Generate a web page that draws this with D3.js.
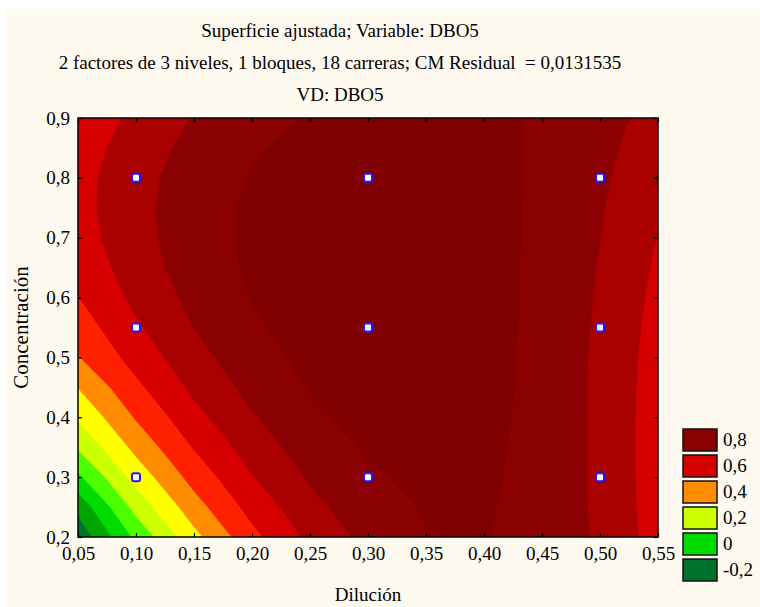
<!DOCTYPE html>
<html>
<head>
<meta charset="utf-8">
<script src="https://cdn.jsdelivr.net/npm/d3@7"></script>
<style>
body { margin: 0; background: #ffffff; }
svg text { font-family: 'Liberation Serif', 'Times New Roman', serif; fill: #000; }
</style>
</head>
<body>
<svg width="760" height="607"></svg>
<script>
// Fitted surface values (DBO5) on a 0.05 x 0.05 grid
var dilucion = [0.05, 0.10, 0.15, 0.20, 0.25, 0.30, 0.35, 0.40, 0.45, 0.50, 0.55];
var concentracion = [0.20, 0.25, 0.30, 0.35, 0.40, 0.45, 0.50, 0.55, 0.60, 0.65, 0.70, 0.75, 0.80, 0.85, 0.90];
// one row per concentracion value, bottom row first
var dbo5 = [
    [-0.271, 0.023, 0.270, 0.471, 0.624, 0.730, 0.797, 0.806, 0.767, 0.685, 0.556],
    [-0.170, 0.136, 0.358, 0.536, 0.671, 0.761, 0.807, 0.809, 0.767, 0.682, 0.552],
    [-0.020, 0.238, 0.437, 0.595, 0.712, 0.788, 0.822, 0.816, 0.768, 0.679, 0.549],
    [ 0.112, 0.329, 0.507, 0.647, 0.748, 0.811, 0.836, 0.822, 0.769, 0.678, 0.549],
    [ 0.214, 0.409, 0.569, 0.692, 0.780, 0.831, 0.847, 0.827, 0.770, 0.678, 0.550],
    [ 0.303, 0.479, 0.622, 0.730, 0.806, 0.848, 0.856, 0.831, 0.772, 0.679, 0.553],
    [ 0.395, 0.538, 0.666, 0.762, 0.827, 0.860, 0.863, 0.834, 0.773, 0.681, 0.558],
    [ 0.447, 0.586, 0.701, 0.786, 0.843, 0.869, 0.867, 0.836, 0.775, 0.685, 0.565],
    [ 0.498, 0.624, 0.728, 0.804, 0.853, 0.875, 0.869, 0.837, 0.776, 0.689, 0.574],
    [ 0.530, 0.651, 0.746, 0.815, 0.859, 0.877, 0.870, 0.837, 0.778, 0.694, 0.585],
    [ 0.555, 0.667, 0.755, 0.819, 0.859, 0.875, 0.868, 0.836, 0.780, 0.701, 0.597],
    [ 0.566, 0.672, 0.755, 0.816, 0.854, 0.870, 0.863, 0.834, 0.782, 0.708, 0.611],
    [ 0.565, 0.667, 0.747, 0.806, 0.845, 0.861, 0.857, 0.831, 0.785, 0.717, 0.627],
    [ 0.551, 0.651, 0.730, 0.790, 0.830, 0.849, 0.849, 0.828, 0.787, 0.726, 0.645],
    [ 0.523, 0.624, 0.705, 0.767, 0.809, 0.833, 0.838, 0.823, 0.790, 0.737, 0.665]
];

// Design points (3 x 3 levels)
var disenoDil = [0.1, 0.3, 0.5];
var disenoConc = [0.3, 0.55, 0.8];

// Contour levels and band colours (lowest band first)
var niveles = [-0.2, -0.1, 0, 0.1, 0.2, 0.3, 0.4, 0.5, 0.6, 0.7, 0.8];
var colores = ['#00732a', '#00a600', '#00dc00', '#4cff00', '#ccff00', '#ffff00',
               '#ff8c00', '#ff2000', '#d60000', '#aa0000', '#8b0000', '#800000'];
var leyendaNiveles = [0.8, 0.6, 0.4, 0.2, 0, -0.2];

var dilTicks = [0.05, 0.10, 0.15, 0.20, 0.25, 0.30, 0.35, 0.40, 0.45, 0.50, 0.55];
var concTicks = [0.2, 0.3, 0.4, 0.5, 0.6, 0.7, 0.8, 0.9];

var titulos = [
    'Superficie ajustada; Variable: DBO5',
    '2 factores de 3 niveles, 1 bloques, 18 carreras; CM Residual  = 0,0131535',
    'VD: DBO5'
];

var svg = d3.select('svg');
var plot = {l: 78, r: 658, t: 118, b: 537};
var fontSize = 19;

// cream page background
svg.append('rect')
    .attr('x', 6).attr('y', 9)
    .attr('width', 754).attr('height', 598)
    .attr('fill', '#fffaf0');

var xScale = d3.scaleLinear().domain([0.05, 0.55]).range([plot.l, plot.r]);
var yScale = d3.scaleLinear().domain([0.2, 0.9]).range([plot.b, plot.t]);
var colorScale = d3.scaleThreshold().domain(niveles).range(colores);

// decimal comma, plain hyphen for negatives
function coma(fmt) {
    var f = d3.format(fmt);
    return function(d) { return f(d).replace('.', ',').replace('\u2212', '-'); };
}

// clip for the filled contours
svg.append('defs').append('clipPath')
    .attr('id', 'plotClip')
    .append('rect')
    .attr('x', plot.l).attr('y', plot.t)
    .attr('width', plot.r - plot.l).attr('height', plot.b - plot.t);

var chartG = svg.append('g').attr('clip-path', 'url(#plotClip)');

// lowest band as base
chartG.append('rect')
    .attr('x', plot.l).attr('y', plot.t)
    .attr('width', plot.r - plot.l).attr('height', plot.b - plot.t)
    .attr('fill', colores[0]);

var nx = dilucion.length, ny = concentracion.length;
var stepX = dilucion[1] - dilucion[0];
var stepY = concentracion[1] - concentracion[0];
var valores = [];
dbo5.forEach(function(row) { row.forEach(function(v) { valores.push(v); }); });

var contornos = d3.contours()
    .size([nx, ny])
    .thresholds(niveles)(valores);

// grid coordinates -> data -> pixels
var proyeccion = d3.geoTransform({
    point: function(gx, gy) {
        var dx = dilucion[0] + (gx - 0.5) * stepX;
        var dy = concentracion[0] + (gy - 0.5) * stepY;
        this.stream.point(xScale(dx), yScale(dy));
    }
});
var path = d3.geoPath(proyeccion);

chartG.selectAll('.banda')
    .data(contornos)
    .enter()
    .append('path')
    .attr('class', 'banda')
    .attr('d', path)
    .attr('fill', function(d) { return colorScale(d.value); })
    .attr('stroke', function(d) { return colorScale(d.value); })
    .attr('stroke-width', 0.4);

// design points
var puntos = [];
disenoConc.forEach(function(c) {
    disenoDil.forEach(function(d) { puntos.push({dil: d, conc: c}); });
});
svg.selectAll('.punto')
    .data(puntos)
    .enter()
    .append('rect')
    .attr('class', 'punto')
    .attr('x', function(d) { return xScale(d.dil) - 4; })
    .attr('y', function(d) { return yScale(d.conc) - 4; })
    .attr('width', 8).attr('height', 8)
    .attr('rx', 2)
    .attr('fill', '#ffffff')
    .attr('stroke', '#1a1aff')
    .attr('stroke-width', 2);

// axes, ticks pointing inside on all four sides
function estiloEje(g) {
    g.select('.domain').remove();
    g.selectAll('line').attr('stroke', '#000').attr('stroke-width', 1.2);
    g.selectAll('text').attr('font-size', fontSize)
        .attr('font-family', "'Liberation Serif', 'Times New Roman', serif");
}

svg.append('g')
    .attr('transform', 'translate(0,' + plot.b + ')')
    .call(d3.axisBottom(xScale).tickValues(dilTicks).tickSizeInner(-4).tickSizeOuter(0)
        .tickPadding(10).tickFormat(coma('.2f')))
    .call(estiloEje);
svg.append('g')
    .attr('transform', 'translate(0,' + plot.t + ')')
    .call(d3.axisTop(xScale).tickValues(dilTicks).tickSizeInner(-4).tickSizeOuter(0)
        .tickFormat(''))
    .call(estiloEje);
svg.append('g')
    .attr('transform', 'translate(' + plot.l + ',0)')
    .call(d3.axisLeft(yScale).tickValues(concTicks).tickSizeInner(-4).tickSizeOuter(0)
        .tickPadding(8).tickFormat(coma('.1f')))
    .call(estiloEje);
svg.append('g')
    .attr('transform', 'translate(' + plot.r + ',0)')
    .call(d3.axisRight(yScale).tickValues(concTicks).tickSizeInner(-4).tickSizeOuter(0)
        .tickFormat(''))
    .call(estiloEje);

// plot frame
svg.append('rect')
    .attr('x', plot.l).attr('y', plot.t)
    .attr('width', plot.r - plot.l).attr('height', plot.b - plot.t)
    .attr('fill', 'none')
    .attr('stroke', '#000')
    .attr('stroke-width', 1.5);

// titles
svg.selectAll('.titulo')
    .data(titulos)
    .enter()
    .append('text')
    .attr('class', 'titulo')
    .attr('x', 340)
    .attr('y', function(d, i) { return 37 + i * 32; })
    .attr('text-anchor', 'middle')
    .attr('font-size', fontSize)
    .style('white-space', 'pre')
    .text(function(d) { return d; });

svg.append('text')
    .attr('x', (plot.l + plot.r) / 2)
    .attr('y', 601)
    .attr('text-anchor', 'middle')
    .attr('font-size', fontSize)
    .text('Dilución');

svg.append('text')
    .attr('transform', 'translate(28,' + ((plot.t + plot.b) / 2) + ') rotate(-90)')
    .attr('text-anchor', 'middle')
    .attr('font-size', 21)
    .text('Concentración');

// legend
var leyenda = svg.append('g').attr('transform', 'translate(683,429)');
var item = leyenda.selectAll('.item')
    .data(leyendaNiveles)
    .enter()
    .append('g')
    .attr('class', 'item')
    .attr('transform', function(d, i) { return 'translate(0,' + (i * 26) + ')'; });
item.append('rect')
    .attr('width', 34).attr('height', 22)
    .attr('fill', function(d) { return colorScale(d - 0.05); })
    .attr('stroke', '#111')
    .attr('stroke-width', 1.5);
item.append('text')
    .attr('x', 40)
    .attr('y', 17)
    .attr('font-size', fontSize)
    .text(function(d) { return d === 0 ? '0' : coma('.1f')(d); });
</script>
</body>
</html>
